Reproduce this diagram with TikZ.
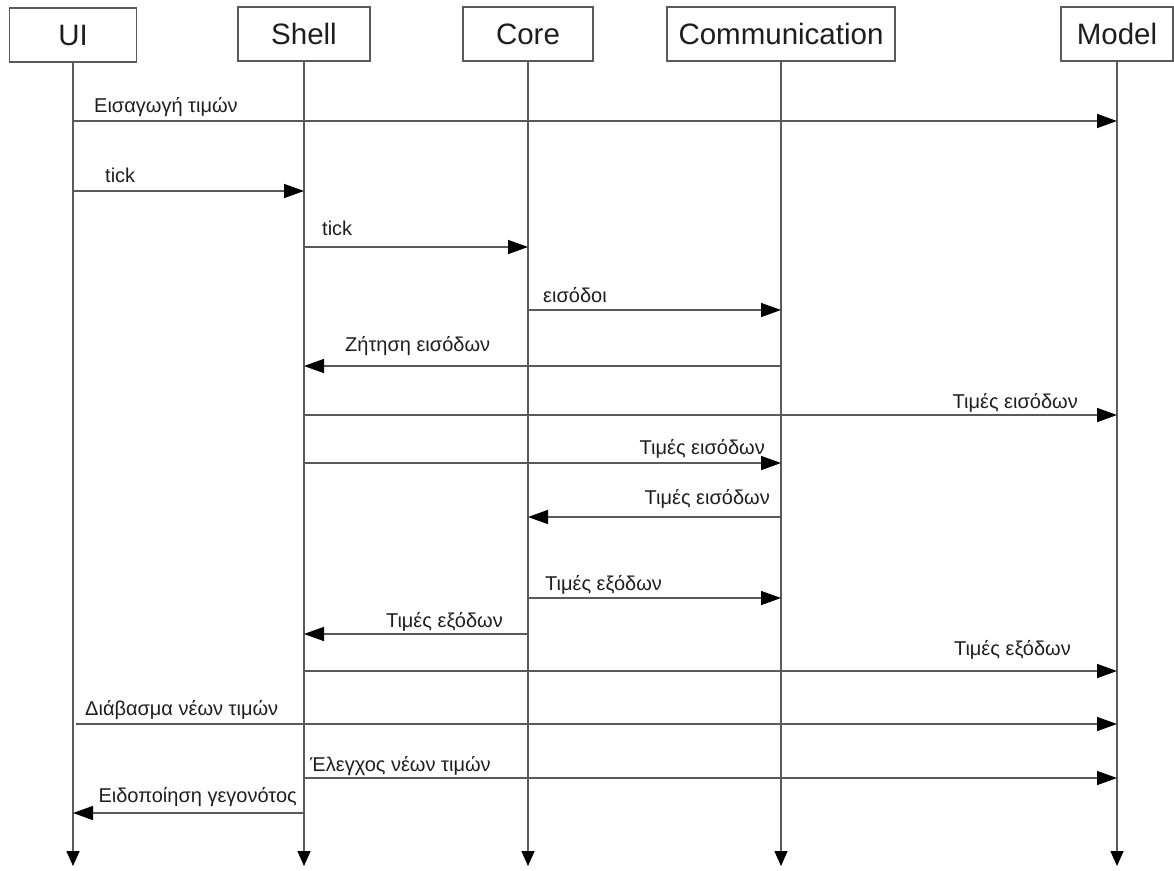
\documentclass[tikz,border=0pt]{standalone}
\usepackage{fontspec}
\setmainfont{Liberation Sans}
\usetikzlibrary{arrows.meta,calc}
\definecolor{linec}{HTML}{5A5A5A}
\definecolor{txt}{HTML}{1E1E1E}
\begin{document}
\begin{tikzpicture}[x=1pt,y=-1pt,
  actor/.style={draw=linec, line width=1.2pt, fill=white, minimum height=54pt,
    inner sep=0pt, font=\fontsize{29.5}{32}\selectfont, text=txt},
  lifeline/.style={draw=linec, line width=1.5pt,
    -{Triangle[length=15pt,width=13pt,color=black]}},
  msg/.style={draw=linec, line width=1.5pt,
    -{Triangle[length=20pt,width=14pt,color=black]}},
  lbl/.style={font=\fontsize{20}{22}\selectfont, text=txt, inner sep=0pt},
]
\useasboundingbox (0,0) rectangle (1174,870);

% participants
\node[actor, minimum width=127pt] (ui)    at (73,35)   {UI};
\node[actor, minimum width=132pt] (shell) at (304,34)  {Shell};
\node[actor, minimum width=130pt] (core)  at (528,34)  {Core};
\node[actor, minimum width=228pt] (comm)  at (781,34)  {Communication};
\node[actor, minimum width=112pt] (model) at (1117,34) {Model};

% lifelines
\coordinate (bottom) at (0,866);
\foreach \p in {ui,shell,core,comm,model}
  \draw[lifeline] (\p.south) -- (\p.south |- bottom);

% message rows
\coordinate (r1) at (0,121);
\coordinate (r2) at (0,191);
\coordinate (r3) at (0,247);
\coordinate (r4) at (0,310);
\coordinate (r5) at (0,366);
\coordinate (r6) at (0,415);
\coordinate (r7) at (0,463);
\coordinate (r8) at (0,517);
\coordinate (r9) at (0,598);
\coordinate (r10) at (0,634);
\coordinate (r11) at (0,671);
\coordinate (r12) at (0,724);
\coordinate (r13) at (0,778);
\coordinate (r14) at (0,813);

% messages
\draw[msg] (ui |- r1) -- (model |- r1);
\draw[msg] (ui |- r2) -- (shell |- r2);
\draw[msg] (shell |- r3) -- (core |- r3);
\draw[msg] (core |- r4) -- (comm |- r4);
\draw[msg] (comm |- r5) -- (shell |- r5);
\draw[msg] (shell |- r6) -- (model |- r6);
\draw[msg] (shell |- r7) -- (comm |- r7);
\draw[msg] (comm |- r8) -- (core |- r8);
\draw[msg] (core |- r9) -- (comm |- r9);
\draw[msg] (core |- r10) -- (shell |- r10);
\draw[msg] (shell |- r11) -- (model |- r11);
\draw[msg] ($(ui |- r12)+(3,0)$) -- (model |- r12);
\draw[msg] (shell |- r13) -- (model |- r13);
\draw[msg] (shell |- r14) -- (ui |- r14);

% message labels
\node[lbl, anchor=base west] (l1)  at (94,112)  {Εισαγωγή τιμών};
\node[lbl, anchor=base west] (l2)  at (105,182) {tick};
\node[lbl, anchor=base west] (l3)  at (322,235) {tick};
\node[lbl, anchor=base west] (l4)  at (543,302) {εισόδοι};
\node[lbl, anchor=base west] (l5)  at (345,351) {Ζήτηση εισόδων};
\node[lbl, anchor=base east] (l6)  at (1078,408) {Τιμές εισόδων};
\node[lbl, anchor=base east] (l7)  at (765,454) {Τιμές εισόδων};
\node[lbl, anchor=base east] (l8)  at (770,504) {Τιμές εισόδων};
\node[lbl, anchor=base west] (l9)  at (545,590) {Τιμές εξόδων};
\node[lbl, anchor=base east] (l10) at (503,627) {Τιμές εξόδων};
\node[lbl, anchor=base east] (l11) at (1071,655) {Τιμές εξόδων};
\node[lbl, anchor=base west] (l12) at (85,715)  {Διάβασμα νέων τιμών};
\node[lbl, anchor=base west] (l13) at (310,771) {Έλεγχος νέων τιμών};
\node[lbl, anchor=base east] (l14) at (297,802) {Ειδοποίηση γεγονότος};
\end{tikzpicture}
\end{document}
